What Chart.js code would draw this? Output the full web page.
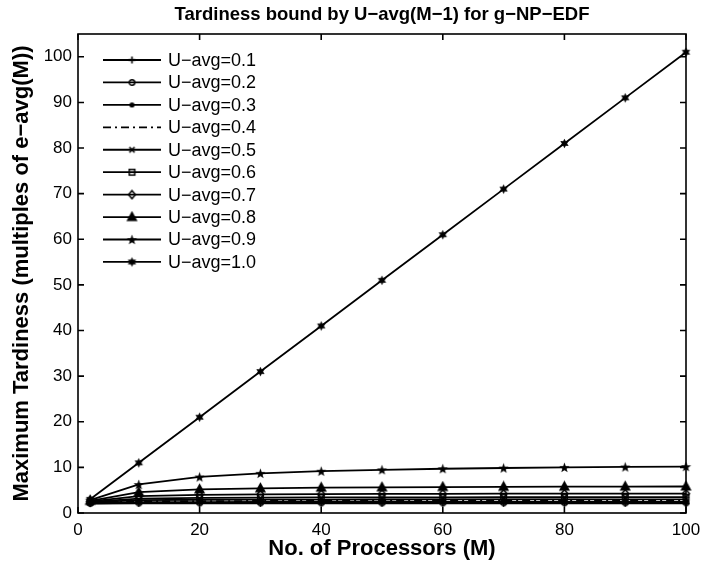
<!DOCTYPE html>
<html><head><meta charset="utf-8">
<script src="https://cdn.jsdelivr.net/npm/chart.js@4.4.1/dist/chart.umd.min.js"></script>
<style>html,body{margin:0;padding:0;background:#fff}canvas{display:block}</style>
</head><body>
<canvas id="c" width="702" height="572"></canvas>
<script>
// ---- data ----
const processors = [2, 10, 20, 30, 40, 50, 60, 70, 80, 90, 100];
const uavg01 = [2.05, 2.10, 2.10, 2.11, 2.11, 2.11, 2.11, 2.11, 2.11, 2.11, 2.11];
const uavg02 = [2.11, 2.22, 2.23, 2.24, 2.24, 2.24, 2.24, 2.25, 2.25, 2.25, 2.25];
const uavg03 = [2.18, 2.37, 2.40, 2.41, 2.41, 2.42, 2.42, 2.42, 2.42, 2.42, 2.42];
const uavg04 = [2.25, 2.56, 2.61, 2.63, 2.64, 2.64, 2.65, 2.65, 2.65, 2.65, 2.66];
const uavg05 = [2.33, 2.82, 2.90, 2.94, 2.95, 2.96, 2.97, 2.97, 2.98, 2.98, 2.98];
const uavg06 = [2.43, 3.17, 3.33, 3.38, 3.41, 3.43, 3.44, 3.45, 3.45, 3.46, 3.46];
const uavg07 = [2.54, 3.70, 3.99, 4.09, 4.15, 4.18, 4.21, 4.23, 4.24, 4.25, 4.26];
const uavg08 = [2.67, 4.57, 5.17, 5.41, 5.55, 5.63, 5.69, 5.73, 5.76, 5.79, 5.81];
const uavg09 = [2.82, 6.26, 7.90, 8.69, 9.16, 9.47, 9.70, 9.86, 9.99, 10.09, 10.17];
const uavg10 = [3, 11, 21, 31, 41, 51, 61, 71, 81, 91, 101];
const seriesLabels = ['U\u2212avg=0.1','U\u2212avg=0.2','U\u2212avg=0.3','U\u2212avg=0.4','U\u2212avg=0.5',
                      'U\u2212avg=0.6','U\u2212avg=0.7','U\u2212avg=0.8','U\u2212avg=0.9','U\u2212avg=1.0'];
const seriesValues = [uavg01,uavg02,uavg03,uavg04,uavg05,uavg06,uavg07,uavg08,uavg09,uavg10];
const chartTitle = 'Tardiness bound by U\u2212avg(M\u22121) for g\u2212NP\u2212EDF';
const xTitle = 'No. of Processors (M)';
const yTitle = 'Maximum Tardiness (multiples of e\u2212avg(M))';

const FONT = '"Liberation Sans", Arial, Helvetica, sans-serif';

// ---- marker images ----
function mk(s, draw){
  const c = document.createElement('canvas'); c.width = s; c.height = s;
  const g = c.getContext('2d'); g.strokeStyle = '#000'; g.fillStyle = '#000'; g.lineWidth = 1.5;
  draw(g, s/2, s/2); return c;
}
function starPath(g, cx, cy, n, ro, ri){
  g.beginPath();
  for (let k = 0; k < 2*n; k++){
    const r = k % 2 ? ri : ro, a = -Math.PI/2 + k*Math.PI/n;
    const px = cx + r*Math.cos(a), py = cy + r*Math.sin(a);
    k ? g.lineTo(px, py) : g.moveTo(px, py);
  }
  g.closePath();
}
const markers = [
  mk(9, (g,x,y)=>{g.beginPath();g.moveTo(x-3.5,y);g.lineTo(x+3.5,y);g.moveTo(x,y-3.5);g.lineTo(x,y+3.5);g.stroke();}),
  mk(9, (g,x,y)=>{g.beginPath();g.arc(x,y,2.8,0,Math.PI*2);g.stroke();}),
  mk(9, (g,x,y)=>{g.beginPath();g.arc(x,y,2.6,0,Math.PI*2);g.fill();}),
  null,
  mk(9, (g,x,y)=>{g.beginPath();g.moveTo(x-2.6,y-2.6);g.lineTo(x+2.6,y+2.6);g.moveTo(x+2.6,y-2.6);g.lineTo(x-2.6,y+2.6);g.stroke();}),
  mk(9, (g,x,y)=>{g.strokeRect(x-2.8,y-2.8,5.6,5.6);}),
  mk(11,(g,x,y)=>{g.beginPath();g.moveTo(x,y-4);g.lineTo(x+3.4,y);g.lineTo(x,y+4);g.lineTo(x-3.4,y);g.closePath();g.stroke();}),
  mk(13,(g,x,y)=>{g.beginPath();g.moveTo(x,y-4.6);g.lineTo(x+4.3,y+3.2);g.lineTo(x-4.3,y+3.2);g.closePath();g.fill();g.stroke();}),
  mk(13,(g,x,y)=>{starPath(g,x,y+0.5,5,5.4,2.2);g.fill();}),
  mk(13,(g,x,y)=>{starPath(g,x,y,6,4.8,2.6);g.fill();})
];
const dashes = [[],[],[],[8,4,2,4],[],[],[],[],[],[]];

const datasets = seriesValues.map((vals, i) => ({
  label: seriesLabels[i],
  data: processors.map((m, j) => ({x: m, y: vals[j]})),
  borderColor: '#000',
  backgroundColor: '#000',
  borderWidth: 1.8,
  borderDash: dashes[i],
  pointStyle: markers[i] || 'circle',
  pointRadius: markers[i] ? 4 : 0,
  pointHoverRadius: 0,
  fill: false,
  tension: 0,
  clip: false
}));

const framePlugin = {
  id: 'frame',
  afterDatasetsDraw(chart){
    const {ctx, chartArea: a, scales: {x, y}} = chart;
    ctx.save();
    ctx.strokeStyle = '#000';
    ctx.lineWidth = 1.6;
    ctx.setLineDash([]);
    ctx.strokeRect(a.left, a.top, a.right - a.left, a.bottom - a.top);
    ctx.beginPath();
    x.ticks.forEach(t => {
      const p = x.getPixelForValue(t.value);
      ctx.moveTo(p, a.bottom); ctx.lineTo(p, a.bottom - 6);
      ctx.moveTo(p, a.top); ctx.lineTo(p, a.top + 6);
    });
    y.ticks.forEach(t => {
      const p = y.getPixelForValue(t.value);
      ctx.moveTo(a.left, p); ctx.lineTo(a.left + 6, p);
      ctx.moveTo(a.right, p); ctx.lineTo(a.right - 6, p);
    });
    ctx.stroke();

    // legend (inside axes, upper left)
    ctx.font = '18px ' + FONT;
    ctx.fillStyle = '#000';
    ctx.textBaseline = 'middle';
    ctx.textAlign = 'left';
    chart.data.datasets.forEach((ds, i) => {
      const yy = 60 + 22.44 * i;
      ctx.lineWidth = ds.borderWidth;
      ctx.setLineDash(ds.borderDash || []);
      ctx.beginPath(); ctx.moveTo(103, yy); ctx.lineTo(161, yy); ctx.stroke();
      ctx.setLineDash([]);
      const mkImg = markers[i];
      if (mkImg) ctx.drawImage(mkImg, 132 - mkImg.width/2, yy - mkImg.height/2);
      ctx.fillText(ds.label, 168, yy + 1);
    });
    ctx.restore();
  }
};

new Chart(document.getElementById('c'), {
  type: 'line',
  data: { datasets },
  options: {
    responsive: false,
    animation: false,
    events: [],
    layout: { padding: { left: 0, right: 16, top: 0, bottom: 0 } },
    plugins: {
      legend: { display: false },
      tooltip: { enabled: false },
      title: {
        display: true, text: chartTitle, color: '#000', fullSize: false,
        font: { family: FONT, size: 18.5, weight: 'bold' },
        padding: { top: 3.6, bottom: 8.2 }
      }
    },
    scales: {
      x: {
        type: 'linear', min: 0, max: 100,
        grid: { display: false, drawTicks: false }, border: { display: false },
        ticks: { stepSize: 20, color: '#000', padding: 7, maxRotation: 0,
                 font: { family: FONT, size: 17 } },
        title: { display: true, text: xTitle, color: '#000',
                 font: { family: FONT, size: 22, weight: 'bold' },
                 padding: { top: 9.8, bottom: 9.8 } },
        afterFit(s){ s.height = 59; s.paddingLeft = 0; s.paddingRight = 0; }
      },
      y: {
        type: 'linear', min: 0, max: 105,
        grid: { display: false, drawTicks: false }, border: { display: false },
        ticks: { stepSize: 10, includeBounds: false, color: '#000', padding: 6,
                 font: { family: FONT, size: 17 } },
        title: { display: true, text: yTitle, color: '#000',
                 font: { family: FONT, size: 22, weight: 'bold' },
                 padding: { top: 9, bottom: 9 } },
        afterFit(s){ s.width = 78; s.paddingTop = 0; s.paddingBottom = 0; }
      }
    }
  },
  plugins: [framePlugin]
});
</script>
</body></html>
